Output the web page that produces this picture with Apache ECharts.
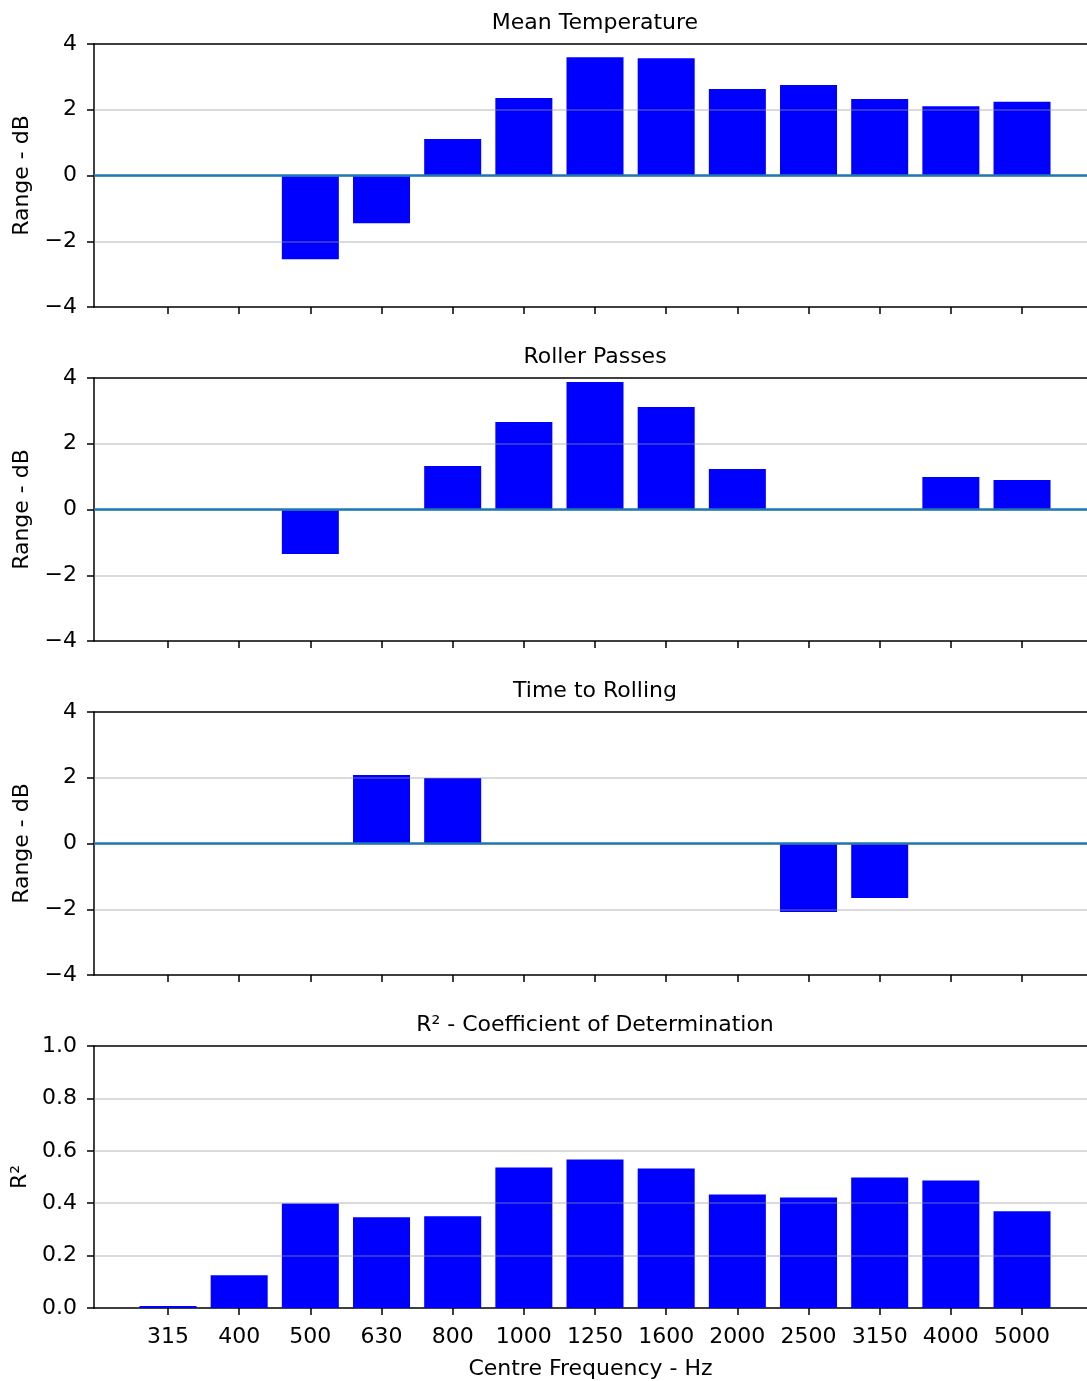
<!DOCTYPE html>
<html>
<head>
<meta charset="utf-8">
<script src="https://cdn.jsdelivr.net/npm/echarts@6/dist/echarts.min.js"></script>
<style>html,body{margin:0;padding:0;background:#fff}#c{width:1087px;height:1381px}</style>
</head>
<body>
<div id="c"></div>
<script>
const categories = ['315','400','500','630','800','1000','1250','1600','2000','2500','3150','4000','5000'];
const meanTemperature = [0, 0, -2.55, -1.45, 1.11, 2.36, 3.60, 3.57, 2.63, 2.75, 2.33, 2.11, 2.24];
const rollerPasses = [0, 0, -1.35, 0, 1.32, 2.66, 3.88, 3.12, 1.23, 0, 0, 0.99, 0.90];
const timeToRolling = [0, 0, 0, 2.08, 1.99, 0, 0, 0, 0, -2.08, -1.66, 0, 0];
const rSquared = [0.008, 0.125, 0.399, 0.346, 0.350, 0.536, 0.567, 0.532, 0.433, 0.422, 0.498, 0.487, 0.369];
const titles = ['Mean Temperature', 'Roller Passes', 'Time to Rolling', 'R\u00b2 - Coefficient of Determination'];
const dbTicks = [-4, -2, 0, 2, 4];
const r2Ticks = [0.2, 0.4, 0.6, 0.8];

const FONT = 'DejaVu Sans';
const FS = 22;
const tops = [44, 378, 712, 1046];
const H = 263;
const XMIN = -1.04, XMAX = 12.913;
const panels = [meanTemperature, rollerPasses, timeToRolling, rSquared];
const idx = categories.map((_, i) => i);

const grid = [], xAxis = [], yAxis = [], series = [], title = [];
panels.forEach((vals, p) => {
  const isR2 = p === 3;
  grid.push({left: 94, right: 0, top: tops[p], height: H, show: false});
  title.push({text: titles[p], left: 595, top: tops[p] - 32, textAlign: 'center', padding: 0,
    textStyle: {fontFamily: FONT, fontSize: FS, fontWeight: 'normal', color: '#000'}});
  xAxis.push({
    type: 'value', gridIndex: p, min: XMIN, max: XMAX, position: 'bottom',
    splitLine: {show: false},
    axisLine: {show: true, onZero: false, lineStyle: {color: '#000', width: 1.5}},
    axisTick: {show: true, inside: false, length: 7, customValues: idx, lineStyle: {color: '#000', width: 1.5}},
    axisLabel: {show: isR2, customValues: idx, margin: 18, fontFamily: FONT, fontSize: FS, color: '#000',
      formatter: v => categories[Math.round(v)] || ''},
    name: isR2 ? 'Centre Frequency - Hz' : '', nameLocation: 'middle', nameGap: 50,
    nameTextStyle: {fontFamily: FONT, fontSize: FS, color: '#000'}
  });
  // top spine
  xAxis.push({
    type: 'value', gridIndex: p, min: XMIN, max: XMAX, position: 'top',
    splitLine: {show: false},
    axisLine: {show: true, onZero: false, lineStyle: {color: '#000', width: 1.5}},
    axisTick: {show: false}, axisLabel: {show: false}
  });
  yAxis.push({
    type: 'value', gridIndex: p,
    min: isR2 ? 0 : -4, max: isR2 ? 1 : 4, interval: isR2 ? 0.2 : 2,
    splitLine: {show: false},
    axisLine: {show: true, onZero: false, lineStyle: {color: '#000', width: 1.5}},
    axisTick: {show: true, inside: false, length: 7, lineStyle: {color: '#000', width: 1.5}},
    axisLabel: {margin: 17, fontFamily: FONT, fontSize: FS, color: '#000',
      formatter: v => isR2 ? v.toFixed(1) : String(v).replace('-', '\u2212')},
    name: isR2 ? 'R\u00b2' : 'Range - dB', nameLocation: 'middle', nameGap: isR2 ? 62 : 58,
    nameTextStyle: {fontFamily: FONT, fontSize: FS, color: '#000'}
  });
  const gridVals = isR2 ? r2Ticks : dbTicks.filter(v => v !== -4 && v !== 4);
  const mlData = gridVals.map(v => ({yAxis: v, lineStyle: {color: 'rgba(150,150,150,0.35)', width: 2, type: 'solid'}}));
  if (!isR2) mlData.push({yAxis: 0, lineStyle: {color: '#1f77b4', width: 2.5, type: 'solid'}});
  series.push({
    type: 'bar', xAxisIndex: p * 2, yAxisIndex: p, barWidth: 57,
    itemStyle: {color: '#0000ff'},
    data: vals.map((v, i) => [i, v]),
    animation: false,
    markLine: {silent: true, symbol: 'none', label: {show: false}, animation: false, data: mlData}
  });
});

const chart = echarts.init(document.getElementById('c'), null, {renderer: 'canvas'});
chart.setOption({animation: false, backgroundColor: '#fff', title, grid, xAxis, yAxis, series});
</script>
</body>
</html>
